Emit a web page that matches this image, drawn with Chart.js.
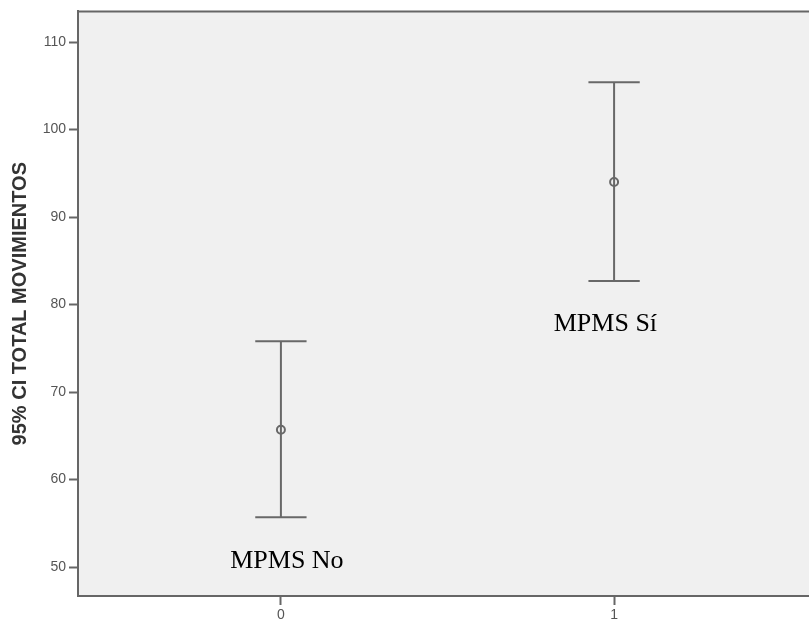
<!DOCTYPE html>
<html>
<head>
<meta charset="utf-8">
<script src="https://cdn.jsdelivr.net/npm/chart.js@4"></script>
<style>
  body { margin: 0; background: #fff; }
</style>
</head>
<body>
<canvas id="ciChart" width="809" height="620"></canvas>
<script>
// groups and their 95% CI values
const groups = [0, 1];
const groupNames = ["MPMS No", "MPMS Sí"];
const means = [65.7, 94.0];
const lowerCI = [55.7, 82.7];
const upperCI = [75.8, 105.4];

const yTicks = [50, 60, 70, 80, 90, 100, 110];
const xTicks = [0, 1];

// where the group names sit, in data units
const nameX = [0.018, 0.974];
const nameY = [49.9, 77.0];

const capHalf = 0.077;
const barColor = "#686868";

const datasets = [];
groups.forEach((g, i) => {
  datasets.push({
    type: "line",
    data: [{ x: g, y: lowerCI[i] }, { x: g, y: upperCI[i] }],
    borderColor: barColor, borderWidth: 2, pointRadius: 0
  });
  datasets.push({
    type: "line",
    data: [{ x: g - capHalf, y: upperCI[i] }, { x: g + capHalf, y: upperCI[i] }],
    borderColor: barColor, borderWidth: 2, pointRadius: 0
  });
  datasets.push({
    type: "line",
    data: [{ x: g - capHalf, y: lowerCI[i] }, { x: g + capHalf, y: lowerCI[i] }],
    borderColor: barColor, borderWidth: 2, pointRadius: 0
  });
});
datasets.push({
  type: "scatter",
  data: groups.map((g, i) => ({ x: g, y: means[i] })),
  pointStyle: "circle",
  pointRadius: 4,
  borderColor: barColor,
  borderWidth: 2,
  backgroundColor: "#f0f0f0"
});

// plot background, top border and the group names
const framePlugin = {
  id: "frame",
  beforeDraw(chart) {
    const { ctx, chartArea: a } = chart;
    ctx.save();
    ctx.fillStyle = "#f0f0f0";
    ctx.fillRect(a.left, a.top, a.right - a.left, a.bottom - a.top);
    ctx.restore();
  },
  afterDraw(chart) {
    const { ctx, chartArea: a, scales } = chart;
    ctx.save();
    ctx.strokeStyle = "#666";
    ctx.lineWidth = 2;
    ctx.beginPath();
    ctx.moveTo(a.left, a.top);
    ctx.lineTo(a.right, a.top);
    ctx.stroke();
    ctx.fillStyle = "#000";
    ctx.font = '26px "Liberation Serif", "Times New Roman", serif';
    ctx.textAlign = "center";
    ctx.textBaseline = "alphabetic";
    groupNames.forEach((name, i) => {
      ctx.fillText(name, scales.x.getPixelForValue(nameX[i]), scales.y.getPixelForValue(nameY[i]));
    });
    ctx.restore();
  }
};

new Chart(document.getElementById("ciChart").getContext("2d"), {
  data: { datasets: datasets },
  options: {
    responsive: false,
    animation: false,
    layout: { autoPadding: false, padding: { top: 11, right: 0, left: 0, bottom: 0 } },
    plugins: { legend: { display: false }, tooltip: { enabled: false } },
    scales: {
      x: {
        type: "linear",
        min: -0.609,
        max: 1.585,
        afterBuildTicks: s => { s.ticks = xTicks.map(v => ({ value: v })); },
        afterFit: s => { s.height = 24; },
        grid: { drawOnChartArea: false, tickLength: 9, tickWidth: 2, tickColor: "#666" },
        border: { color: "#666", width: 2 },
        ticks: { color: "#555", padding: 2, font: { family: '"Liberation Sans", Arial', size: 14 } }
      },
      y: {
        type: "linear",
        min: 46.7,
        max: 113.5,
        afterBuildTicks: s => { s.ticks = yTicks.map(v => ({ value: v })); },
        afterFit: s => { s.width = 78; },
        grid: { drawOnChartArea: false, tickLength: 9, tickWidth: 2, tickColor: "#666" },
        border: { color: "#666", width: 2 },
        ticks: { color: "#555", padding: 3, font: { family: '"Liberation Sans", Arial', size: 14 } },
        title: {
          display: true,
          text: "95% CI TOTAL MOVIMIENTOS",
          color: "#333",
          padding: { top: 8, bottom: 0 },
          font: { family: '"Liberation Sans", Arial', size: 20, weight: "bold" }
        }
      }
    }
  },
  plugins: [framePlugin]
});
</script>
</body>
</html>
